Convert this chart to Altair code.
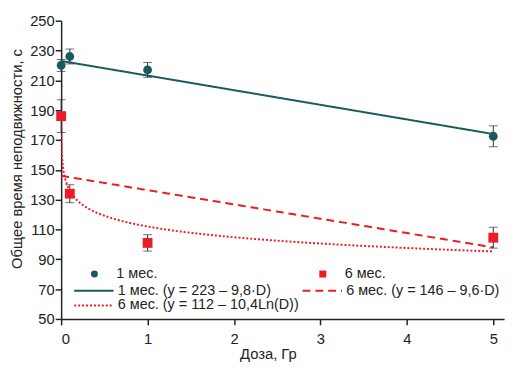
import altair as alt
import pandas as pd

# ---- data ----
dose = [0, 0.1, 1, 5]
m1_mean = [220, 226, 217, 172.5]
m1_err = [4, 5, 5, 7]
m6_mean = [186, 134, 101, 104.5]
m6_err = [11, 6, 5.5, 7]

pt_labels = ["1 мес.", "6 мес."]
fit_keys = ["f1", "f3", "f2"]  # legend fills column by column
fit_labels = {"f1": "1 мес. (y = 223 – 9,8·D)", "f2": "6 мес. (y = 146 – 9,6·D)",
              "f3": "6 мес. (y = 112 – 10,4Ln(D))"}

TEAL = "#195a5c"
RED = "#ec1c24"
FONT = "Liberation Sans"
FS = 15
LFS = 14.6

pts = pd.DataFrame({
    "dose": dose * 2,
    "mean": m1_mean + m6_mean,
    "err": m1_err + m6_err,
    "grp": [pt_labels[0]] * 4 + [pt_labels[1]] * 4,
})

xscale = alt.Scale(domain=[0, 5.125], nice=False, zero=False)
yscale = alt.Scale(domain=[50, 250], nice=False, zero=False)

xax = alt.Axis(values=[0, 1, 2, 3, 4, 5], title="Доза, Гр", grid=False, format="d",
               titleX=210, titleY=28, labelOverlap=False, labelPadding=7)
yax = alt.Axis(values=list(range(50, 251, 20)), title="Общее время неподвижности, с", grid=False,
               titleX=-37, titleY=140, labelOverlap=False, labelPadding=1)

label_expr = "{'f1': '%s', 'f2': '%s', 'f3': '%s'}[datum.value]" % (
    fit_labels["f1"], fit_labels["f2"], fit_labels["f3"])

# fitted curves (equations given on the chart), sampled along log10(D)
fits = (
    alt.Chart(alt.sequence(-3.1, 0.71, 0.01, as_="s"))
    .transform_calculate(D="min(5, pow(10, datum.s))")
    .transform_calculate(
        f1="223 - 9.8*datum.D",
        f2="146 - 9.6*datum.D",
        f3="112 - 10.4*log(datum.D)",
    )
    .transform_fold(["f1", "f2", "f3"], as_=["key", "val"])
)

line_legend = alt.Legend(
    title=None, orient="none", legendX=26, legendY=267, columns=2, columnPadding=-1,
    symbolType="M-4,0H4", symbolSize=100, symbolStrokeWidth=2, labelFontSize=LFS,
    labelFont=FONT, labelColor="#222", padding=0, rowPadding=0, labelOffset=17,
    labelLimit=400, labelExpr=label_expr,
)

lines = fits.mark_line(clip=True).encode(
    x=alt.X("D:Q", scale=xscale, axis=xax),
    y=alt.Y("val:Q", scale=yscale, axis=yax),
    stroke=alt.Stroke("key:N", scale=alt.Scale(domain=fit_keys, range=[TEAL, RED, RED]),
                      legend=line_legend),
    strokeDash=alt.StrokeDash("key:N", scale=alt.Scale(domain=fit_keys, range=[[1, 0], [2, 2], [8, 5]]),
                              legend=line_legend),
    order="D:Q",
)

base = alt.Chart(pts).transform_calculate(lo="datum.mean - datum.err", hi="datum.mean + datum.err")

err_rule = base.mark_rule(color="#333", strokeWidth=1).encode(
    x=alt.X("dose:Q", scale=xscale, axis=xax), y=alt.Y("lo:Q", scale=yscale, axis=yax), y2="hi:Q"
)
cap_lo = base.mark_tick(color="#333", thickness=1, size=9, orient="horizontal").encode(
    x=alt.X("dose:Q", scale=xscale, axis=xax), y=alt.Y("lo:Q", scale=yscale, axis=yax)
)
cap_hi = base.mark_tick(color="#333", thickness=1, size=9, orient="horizontal").encode(
    x=alt.X("dose:Q", scale=xscale, axis=xax), y=alt.Y("hi:Q", scale=yscale, axis=yax)
)

pt_legend = alt.Legend(
    title=None, orient="none", legendX=26.5, legendY=250, columns=2, columnPadding=160,
    symbolSize=50, labelFontSize=LFS, labelFont=FONT, labelColor="#222", padding=0,
    labelOffset=15, symbolStrokeWidth=0,
)

fill_enc = alt.Fill("grp:N", scale=alt.Scale(domain=pt_labels, range=[TEAL, RED]), legend=pt_legend)
shape_enc = alt.Shape("grp:N", scale=alt.Scale(domain=pt_labels, range=["circle", "square"]), legend=pt_legend)

circles = base.transform_filter(alt.datum.grp == pt_labels[0]).mark_point(
    filled=True, opacity=1, strokeWidth=0, size=80
).encode(x=alt.X("dose:Q", scale=xscale, axis=xax), y=alt.Y("mean:Q", scale=yscale, axis=yax),
         fill=fill_enc, shape=shape_enc)

squares = base.transform_filter(alt.datum.grp == pt_labels[1]).mark_point(
    filled=True, opacity=1, strokeWidth=0, size=100
).encode(x=alt.X("dose:Q", scale=xscale, axis=xax), y=alt.Y("mean:Q", scale=yscale, axis=yax),
         fill=fill_enc, shape=shape_enc)

chart = (
    alt.layer(lines, err_rule, cap_lo, cap_hi, circles, squares)
    .properties(
        width=450, height=303,
        autosize=alt.AutoSizeParams(type="none"),
        padding={"left": 54, "top": 10, "right": 6, "bottom": 52},
    )
    .configure_view(stroke=None)
    .configure_axis(
        domainColor="#222", domainWidth=1.5, tickColor="#222", tickWidth=1.5, tickSize=6,
        labelFont=FONT, labelFontSize=FS, labelColor="#222", labelOverlap=False,
        titleFont=FONT, titleFontSize=FS, titleColor="#222", titleFontWeight="normal",
    )
)

chart.save("out.html", embed_options={"renderer": "svg", "actions": False})
